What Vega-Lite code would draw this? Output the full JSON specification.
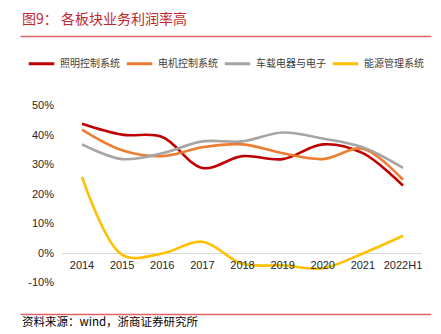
{
  "$schema": "https://vega.github.io/schema/vega-lite/v6.json",
  "padding": {"left": 20, "top": 13, "right": 10, "bottom": 2},
  "background": "white",
  "width": 411,
  "height": 177,
  "config": {"view": {"stroke": null}},
  "title": {
    "text": "图9：  各板块业务利润率高",
    "anchor": "start",
    "frame": "group",
    "font": "Noto Sans CJK SC",
    "fontSize": 14,
    "fontWeight": "normal",
    "color": "#c0282d",
    "offset": 9,
    "dx": 2
  },
  "datasets": {
    "one": [{"k": 1}],
    "yticks": [
      {"v": -10, "label": "-10%"}, {"v": 0, "label": "0%"}, {"v": 10, "label": "10%"},
      {"v": 20, "label": "20%"}, {"v": 30, "label": "30%"}, {"v": 40, "label": "40%"},
      {"v": 50, "label": "50%"}
    ],
    "years": [
      {"idx": 0, "year": "2014"}, {"idx": 1, "year": "2015"}, {"idx": 2, "year": "2016"},
      {"idx": 3, "year": "2017"}, {"idx": 4, "year": "2018"}, {"idx": 5, "year": "2019"},
      {"idx": 6, "year": "2020"}, {"idx": 7, "year": "2021"}, {"idx": 8, "year": "2022H1"}
    ],
    "margins": [
      {"idx": 0, "year": "2014", "series": "照明控制系统", "value": 44},
      {"idx": 1, "year": "2015", "series": "照明控制系统", "value": 40.3},
      {"idx": 2, "year": "2016", "series": "照明控制系统", "value": 39.5},
      {"idx": 3, "year": "2017", "series": "照明控制系统", "value": 29},
      {"idx": 4, "year": "2018", "series": "照明控制系统", "value": 33},
      {"idx": 5, "year": "2019", "series": "照明控制系统", "value": 32},
      {"idx": 6, "year": "2020", "series": "照明控制系统", "value": 37},
      {"idx": 7, "year": "2021", "series": "照明控制系统", "value": 34},
      {"idx": 8, "year": "2022H1", "series": "照明控制系统", "value": 23},
      {"idx": 0, "year": "2014", "series": "电机控制系统", "value": 42},
      {"idx": 1, "year": "2015", "series": "电机控制系统", "value": 35},
      {"idx": 2, "year": "2016", "series": "电机控制系统", "value": 33},
      {"idx": 3, "year": "2017", "series": "电机控制系统", "value": 36},
      {"idx": 4, "year": "2018", "series": "电机控制系统", "value": 37},
      {"idx": 5, "year": "2019", "series": "电机控制系统", "value": 34},
      {"idx": 6, "year": "2020", "series": "电机控制系统", "value": 32},
      {"idx": 7, "year": "2021", "series": "电机控制系统", "value": 35.5},
      {"idx": 8, "year": "2022H1", "series": "电机控制系统", "value": 25},
      {"idx": 0, "year": "2014", "series": "车载电器与电子", "value": 37},
      {"idx": 1, "year": "2015", "series": "车载电器与电子", "value": 32},
      {"idx": 2, "year": "2016", "series": "车载电器与电子", "value": 34},
      {"idx": 3, "year": "2017", "series": "车载电器与电子", "value": 38},
      {"idx": 4, "year": "2018", "series": "车载电器与电子", "value": 38},
      {"idx": 5, "year": "2019", "series": "车载电器与电子", "value": 41},
      {"idx": 6, "year": "2020", "series": "车载电器与电子", "value": 39},
      {"idx": 7, "year": "2021", "series": "车载电器与电子", "value": 36},
      {"idx": 8, "year": "2022H1", "series": "车载电器与电子", "value": 29},
      {"idx": 0, "year": "2014", "series": "能源管理系统", "value": 26},
      {"idx": 1, "year": "2015", "series": "能源管理系统", "value": -0.5},
      {"idx": 2, "year": "2016", "series": "能源管理系统", "value": 0},
      {"idx": 3, "year": "2017", "series": "能源管理系统", "value": 4},
      {"idx": 4, "year": "2018", "series": "能源管理系统", "value": -3.5},
      {"idx": 5, "year": "2019", "series": "能源管理系统", "value": -4},
      {"idx": 6, "year": "2020", "series": "能源管理系统", "value": -5},
      {"idx": 7, "year": "2021", "series": "能源管理系统", "value": 0},
      {"idx": 8, "year": "2022H1", "series": "能源管理系统", "value": 6}
    ]
  },
  "resolve": {"axis": {"x": "independent"}},
  "layer": [
    {
      "data": {"name": "one"},
      "mark": {"type": "rule", "color": "#d9d9d9", "strokeWidth": 1},
      "encoding": {
        "x": {"datum": -0.5, "type": "quantitative", "scale": {"domain": [-1.545, 8.698], "nice": false, "zero": false}, "axis": null},
        "x2": {"datum": 8.47},
        "y": {"datum": 0, "type": "quantitative", "scale": {"domain": [-10, 50], "nice": false, "zero": false}, "axis": null}
      }
    },
    {
      "data": {"name": "margins"},
      "mark": {"type": "line", "interpolate": "catmull-rom", "strokeWidth": 2.6},
      "encoding": {
        "x": {
          "field": "idx",
          "type": "quantitative",
          "scale": {"domain": [-1.545, 8.698], "nice": false, "zero": false},
          "axis": {
            "orient": "bottom",
            "title": null,
            "labels": false,
            "ticks": false,
            "grid": false,
            "domainColor": "#e06262",
            "domainWidth": 1.5,
            "offset": 31
          }
        },
        "y": {
          "field": "value",
          "type": "quantitative",
          "scale": {"domain": [-10, 50], "nice": false, "zero": false},
          "axis": null
        },
        "color": {
          "field": "series",
          "type": "nominal",
          "scale": {
            "domain": ["照明控制系统", "电机控制系统", "车载电器与电子", "能源管理系统"],
            "range": ["#c00000", "#ed7d31", "#a5a5a5", "#ffc000"]
          },
          "legend": {
            "title": null,
            "orient": "none",
            "direction": "horizontal",
            "legendX": 7,
            "legendY": -57,
            "symbolType": "stroke",
            "symbolSize": 650,
            "symbolStrokeWidth": 3,
            "labelFont": "Noto Sans CJK SC",
            "labelFontSize": 10,
            "labelColor": "#404040",
            "labelOffset": 4,
            "columnPadding": 0
          }
        }
      }
    },
    {
      "data": {"name": "years"},
      "mark": {"type": "text", "font": "Liberation Sans", "fontSize": 11, "color": "#262626", "baseline": "middle", "align": "center"},
      "encoding": {
        "x": {
          "field": "idx",
          "type": "quantitative",
          "scale": {"domain": [-1.545, 8.698], "nice": false, "zero": false},
          "axis": {
            "orient": "top",
            "title": null,
            "labels": false,
            "ticks": false,
            "grid": false,
            "domainColor": "#e06262",
            "domainWidth": 1.5,
            "offset": 70
          }
        },
        "y": {"datum": -4.4, "type": "quantitative", "scale": {"domain": [-10, 50], "nice": false, "zero": false}, "axis": null},
        "text": {"field": "year", "type": "nominal"}
      }
    },
    {
      "data": {"name": "yticks"},
      "mark": {"type": "text", "font": "Liberation Sans", "fontSize": 11, "color": "#262626", "baseline": "middle", "align": "right"},
      "encoding": {
        "x": {"datum": -0.698, "type": "quantitative", "scale": {"domain": [-1.545, 8.698], "nice": false, "zero": false}, "axis": null},
        "y": {"field": "v", "type": "quantitative", "scale": {"domain": [-10, 50], "nice": false, "zero": false}, "axis": null},
        "text": {"field": "label", "type": "nominal"}
      }
    },
    {
      "data": {"values": [{"note": "资料来源：wind，浙商证券研究所"}]},
      "mark": {"type": "text", "font": "Noto Sans CJK SC", "fontSize": 11.5, "color": "#000000", "baseline": "middle", "align": "left"},
      "encoding": {
        "x": {"datum": -1.495, "type": "quantitative", "scale": {"domain": [-1.545, 8.698], "nice": false, "zero": false}, "axis": null},
        "y": {"datum": -23.6, "type": "quantitative", "scale": {"domain": [-10, 50], "nice": false, "zero": false}, "axis": null},
        "text": {"field": "note", "type": "nominal"}
      }
    }
  ]
}
